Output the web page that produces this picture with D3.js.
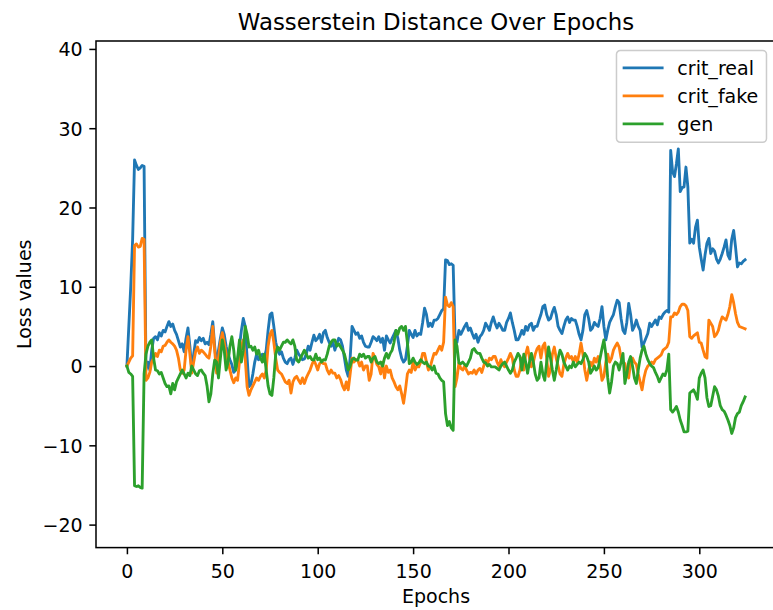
<!DOCTYPE html>
<html>
<head>
<meta charset="utf-8">
<script src="https://cdn.jsdelivr.net/npm/d3@7"></script>
<style>
  body { margin: 0; background: #fff; }
  svg { display: block; }
  text { font-family: "DejaVu Sans", sans-serif; fill: #000; }
</style>
</head>
<body>
<svg id="chart" width="773" height="610"></svg>
<script>
// Loss values per epoch (index = epoch)
const critReal = [
  0, 5, 10, 16, 26, 25.3, 24.8, 25.0, 25.3, 25.2,
  -0.5, 0.5, -0.5, 2.0, 3.5, 3.7, 3.3, 4.2, 3.8, 4.5,
  4.3, 5.0, 5.6, 5.0, 5.3, 4.5, 4.0, 3.2, 2.4, 2.8,
  1.8, 3.5, 4.8, 2.5, -0.5, 1.5, 3.2, 3.0, 3.6, 3.2,
  3.5, 2.8, 3.0, 2.7, 4.0, 5.6, 2.5, -0.1, 2.0, 3.5,
  4.8, 4.0, 2.5, 1.5, 0.8, 0.2, -0.8, -0.5, 0.5, 2.5,
  4.5, 6.0, 5.0, 1.0, -2.6, -2.3, -1.0, 0.5, 1.5, 0.8,
  1.2, 1.5, 1.0, 2.0, 4.5, 6.5, 6.7, 5.0, 3.0, 2.0,
  1.5, 1.8, 1.0, 0.5, 0.3, 0.8, 1.0, 0.2, 1.0, 2.0,
  1.5, 1.2, 0.8, 0.9, 1.5, 2.5, 2.0, 3.0, 3.9, 3.2,
  3.5, 4.0, 3.0, 4.2, 4.5, 3.6, 3.0, 2.5, 3.0, 2.0,
  2.8, 3.5, 3.3, 2.5, 1.0, -0.5, -1.3, 1.0, 5.0, 4.5,
  4.0, 4.2, 3.5, 3.8, 3.0, 2.5, 2.4, 2.4, 3.0, 3.7,
  3.5, 3.2, 3.7, 3.0, 3.5, 2.0, 3.8, 3.3, 2.9, 3.5,
  4.0, 4.5, 3.5, 2.0, 1.0, 0.5, 0.8, 2.5, 4.5, 4.0,
  3.6, 4.5, 3.8, 4.1, 4.0, 5.5, 7.3, 6.5, 5.0, 5.4,
  5.0, 5.8, 5.8, 6.0, 6.5, 7.0, 7.2, 13.4, 13.3, 12.8,
  12.9, 12.7, 3.3, 3.0, 4.5, 4.0, 4.5, 5.0, 5.4, 4.5,
  4.8, 4.1, 3.5, 4.0, 3.0, 3.7, 4.0, 4.5, 5.4, 5.0,
  4.5, 5.5, 6.2, 5.4, 4.8, 5.4, 5.0, 4.5, 4.5, 5.5,
  6.0, 6.7, 5.5, 4.5, 3.3, 3.3, 3.8, 4.5, 4.0, 5.0,
  4.5, 5.2, 5.4, 4.5, 5.0, 5.0, 5.8, 6.5, 7.5, 7.7,
  6.5, 5.8, 6.0, 6.8, 7.4, 6.5, 5.0, 4.5, 4.1, 5.0,
  5.8, 6.2, 5.5, 6.0, 5.8, 5.8, 5.0, 4.0, 3.3, 4.5,
  6.5, 7.0, 6.0, 4.5, 4.8, 5.5, 5.2, 5.0, 6.0, 7.5,
  5.0, 3.3, 4.5, 5.5, 6.0, 6.5, 7.5, 8.3, 8.0, 6.0,
  4.5, 4.1, 5.5, 7.9, 6.5, 4.5, 5.0, 5.8, 5.0, 4.5,
  2.4, 2.9, 3.5, 4.1, 5.4, 5.0, 5.4, 5.8, 5.2, 6.2,
  6.0, 6.5, 6.8, 7.0, 6.8, 27.2, 24.5, 23.9, 25.5, 27.4,
  22.0, 22.5, 22.6, 25.1, 22.6, 15.5, 16.0, 15.5, 17.5, 18.4,
  15.0, 13.5, 12.1, 14.0, 15.5, 16.1, 14.2, 14.8, 14.5, 13.5,
  13.0, 13.5, 14.2, 15.0, 15.9, 14.0, 13.5, 16.0, 17.1, 15.0,
  12.5, 13.0, 12.9, 13.2, 13.4
];

const critFake = [
  0, 0.5, 1.0, 1.3, 15.2, 15.4, 15.0, 15.1, 16.1, 16.0,
  -1.8, -1.5, -0.8, 0.5, 1.0, 1.6, 1.2, 2.0, 1.8, 2.5,
  2.6, 3.0, 3.3, 3.0, 2.8, 2.5, 2.0, 1.0, -0.5, -0.9,
  -0.5, 2.0, 3.7, 1.5, -0.9, 0.5, 1.8, 2.4, 1.6, 2.0,
  1.8, 1.5, 1.2, 1.0, 2.5, 5.0, 2.0, -0.9, 1.0, 3.0,
  4.2, 3.0, 1.5, 0.5, -0.5, -1.5, -2.1, -1.5, -1.8, 0.5,
  2.5, 3.3, 1.0, -2.6, -3.7, -3.0, -2.5, -2.0, -1.5, -1.8,
  -1.3, -1.0, -1.5, -0.5, 2.5, 4.0, 4.5, 3.0, 1.0, -0.5,
  -0.8, -1.0, -1.5, -2.0, -2.2, -1.8, -3.4, -2.0, -1.5, -1.3,
  -1.8, -2.2, -1.5, -2.2, -1.5, -1.0, -0.5, 0.2, 0.75, 0.2,
  -0.5, 0.3, 0.5, 0.3, 0.3, -0.5, -1.0, -0.5, -0.9, -0.9,
  -1.5, -1.2, -1.7, -2.5, -3.0, -2.0, -3.0, -1.0, 1.0, 0.5,
  0.8, 0.75, 0.0, 0.5, -0.5, 0.0, 0.0, -1.8, -1.0, 1.6,
  1.0, 0.2, -0.1, -1.0, 0.5, -1.5, 0.0, -0.8, -0.5, -1.5,
  -2.0, -2.6, -3.0, -2.5, -3.5, -4.7, -3.0, -1.0, -0.5, -0.8,
  0.5, -0.5, 0.0, -0.1, 0.5, 1.6, 1.6, 0.5, -0.5, -0.1,
  0.8, 1.6, 1.5, 2.0, 2.5, 2.0, 3.0, 8.7, 7.7, 7.5,
  8.0, 7.5, -2.6, -1.5, 0.4, -0.3, -0.5, 0.0, -0.5, -1.0,
  -0.8, -0.9, -0.5, -1.0, -0.5, -0.3, -0.8, 0.0, 0.75, 0.3,
  1.0, 0.8, 1.2, 1.2, 0.5, 0.0, 0.8, 0.2, -0.1, 0.5,
  1.0, 1.6, 1.0, -0.5, -1.3, -1.3, -0.5, 1.0, -0.5, 1.5,
  2.4, 1.0, -0.1, 0.5, 1.5, 2.2, 2.5, 1.0, 2.5, 2.9,
  1.0, -1.3, -0.5, 1.5, 2.4, 1.0, 0.0, -1.0, -1.3, 0.2,
  1.0, 1.6, 1.0, 1.2, 0.5, 1.2, 0.5, 1.5, 2.9, 1.5,
  -0.5, -1.8, -0.5, 0.5, 0.0, 1.0, 0.5, 1.2, 0.0, -1.8,
  -1.3, 0.5, 1.5, 0.5, 1.0, 2.0, 2.5, 2.9, 2.4, 1.0,
  0.5, 0.3, -1.0, -1.5, 0.5, 1.0, 0.5, 0.2, -1.0, -2.0,
  -3.0, -1.5, -0.5, 0.0, 0.2, 0.5, 0.3, 0.8, 1.0, 1.2,
  1.4, 2.0, 2.2, 2.4, 3.0, 6.2, 6.2, 6.7, 6.5, 6.8,
  7.5, 7.8, 7.8, 7.6, 7.0, 3.7, 3.5, 3.8, 4.0, 4.2,
  3.0, 2.9, 2.0, 1.2, 1.0, 5.8, 5.4, 5.0, 3.7, 4.0,
  4.5, 5.5, 6.2, 6.0, 5.8, 6.5, 7.5, 9.0, 8.0, 6.6,
  5.5, 5.0, 4.9, 4.8, 4.7
];

const gen = [
  0, -0.8, -1.0, -1.3, -15.1, -15.2, -15.1, -15.3, -15.4, -1.0,
  1.5, 2.5, 3.0, 3.3, 1.0, -0.5, -0.6, -1.0, -0.8, -1.5,
  -2.2, -2.6, -2.5, -3.5, -2.2, -3.0, -2.0, -1.5, -1.0, -0.5,
  -1.0, -1.5, -0.9, -1.2, 0.0, -0.5, -1.0, -1.2, -0.6, -0.5,
  -0.9, -1.2, -2.5, -4.5, -3.5, -1.0, 0.75, 0.5, -1.5, 1.0,
  3.3, 2.0, -0.5, 0.5, 2.5, 3.7, 2.0, -0.5, 1.0, 3.3,
  0.5, 2.0, 5.0, 4.0, 2.4, 2.5, 2.0, 2.4, 1.5, 2.0,
  1.0, 0.5, 1.5, -0.5, -2.5, -3.5, -3.7, -1.5, 1.5, 2.4,
  2.0, 2.5, 3.0, 3.0, 3.3, 3.0, 2.8, 3.3, 2.5, 0.75,
  0.5, 1.0, 1.5, 2.0, 1.5, 1.0, 1.2, 0.8, 0.75, 1.5,
  0.8, 1.0, 0.5, 0.8, 0.75, 1.5, 2.5, 3.0, 3.3, 3.3,
  2.5, 2.8, 2.4, 2.0, 1.5, 0.5, -0.5, 0.0, 0.8, 1.0,
  0.75, 0.75, 1.5, 1.2, 1.5, 1.0, 1.2, 1.2, 0.5, 1.0,
  1.2, 0.5, 0.3, 0.5, 0.0, 1.0, 1.6, 1.0, 1.6, 2.0,
  3.0, 4.5, 4.0, 4.8, 5.0, 4.5, 5.0, 3.0, 0.3, 0.5,
  1.0, 0.5, 0.2, 0.4, 0.8, 0.5, 0.3, 0.5, 0.0, -0.1,
  -0.5, 0.0, -0.9, -1.0, -1.5, -1.8, -2.0, -6.0, -7.5, -7.0,
  -7.8, -8.1, 3.3, 2.5, 0.4, 0.3, 0.5, 0.2, 0.0, 0.5,
  1.0, 2.0, 2.2, 1.8, 1.6, 1.6, 1.0, 0.5, 0.4, 0.0,
  0.2, -0.1, -0.1, -0.1, -0.3, -0.5, 0.0, 0.3, 0.5, 0.0,
  -0.5, -0.9, -0.5, 0.5, 1.0, 1.6, 1.2, -0.5, 1.5, 0.5,
  -0.9, 0.5, 1.6, 0.5, -1.0, -1.8, -1.5, 0.5, -1.0, -1.8,
  0.5, 2.4, 1.0, -0.5, -1.8, -0.5, 1.0, 2.0, 1.5, 0.5,
  0.0, -0.5, 0.0, -0.2, 0.5, -0.1, 0.2, 0.5, 0.3, 0.8,
  1.6, 1.2, 0.5, -0.9, -0.5, 0.0, -0.5, -0.2, 1.0, 2.2,
  3.3, 1.5, -1.5, -3.4, -2.0, 0.0, 0.5, 0.3, -0.5, 0.5,
  1.6, -2.2, -1.0, 0.5, 1.2, 0.0, -1.5, -2.2, -0.5, 1.0,
  2.0, 2.5, 1.5, 0.8, 0.3, 0.0, -0.2, -0.8, -1.3, -2.0,
  -1.5, -1.0, -1.2, -0.5, 1.5, -5.5, -5.8, -5.5, -5.1, -5.8,
  -6.8, -7.5, -8.3, -8.3, -8.2, -3.4, -3.2, -3.0, -3.5, -4.2,
  -1.5, -0.9, -0.5, -1.5, -4.0, -5.1, -5.0, -3.8, -2.6, -3.0,
  -3.8, -5.0, -5.5, -5.7, -6.2, -6.8, -7.5, -8.5, -7.8, -6.5,
  -6.0, -5.8, -5.0, -4.5, -3.9
];

const seriesNames = ["crit_real", "crit_fake", "gen"];
const seriesColors = ["#1f77b4", "#ff7f0e", "#2ca02c"];
const xTicks = [0, 50, 100, 150, 200, 250, 300];
const yTicks = [-20, -10, 0, 10, 20, 30, 40];
const titleText = "Wasserstein Distance Over Epochs";
const xLabel = "Epochs";
const yLabel = "Loss values";

// Figure geometry (points scaled to pixels)
const pt = 1.903;
const plotLeft = 96, plotRight = 776, plotTop = 41, plotBottom = 547.6;
const fontSize = 10 * pt;

const svg = d3.select("#chart");
svg.append("rect").attr("width", 773).attr("height", 610).attr("fill", "#fff");

const n = critReal.length;
const xPad = (n - 1) * 0.05;
const x = d3.scaleLinear().domain([-xPad, n - 1 + xPad]).range([plotLeft, plotRight]);
const y = d3.scaleLinear().domain([-22.9, 41.0]).range([plotBottom, plotTop]);

svg.append("defs").append("clipPath").attr("id", "plotClip")
  .append("rect").attr("x", plotLeft).attr("y", plotTop)
  .attr("width", plotRight - plotLeft).attr("height", plotBottom - plotTop);

// Lines
const allSeries = [critReal, critFake, gen];
const line = d3.line().x((d, i) => x(i)).y(d => y(d));
const plot = svg.append("g").attr("clip-path", "url(#plotClip)");
allSeries.forEach((vals, k) => {
  plot.append("path")
    .attr("d", line(vals))
    .attr("fill", "none")
    .attr("stroke", seriesColors[k])
    .attr("stroke-width", 1.5 * pt)
    .attr("stroke-linejoin", "round")
    .attr("stroke-linecap", "square");
});

// Axes
const fmt = d => String(d).replace("-", "\u2212");
const xAxis = d3.axisBottom(x).tickValues(xTicks).tickFormat(fmt)
  .tickSize(3.5 * pt).tickPadding(3.5 * pt).tickSizeOuter(0);
const yAxis = d3.axisLeft(y).tickValues(yTicks).tickFormat(fmt)
  .tickSize(3.5 * pt).tickPadding(3.5 * pt).tickSizeOuter(0);

const gx = svg.append("g").attr("transform", `translate(0,${plotBottom})`).call(xAxis);
const gy = svg.append("g").attr("transform", `translate(${plotLeft},0)`).call(yAxis);
[gx, gy].forEach(g => {
  g.select(".domain").remove();
  g.selectAll(".tick line").attr("stroke", "#000").attr("stroke-width", 0.8 * pt);
  g.selectAll(".tick text")
    .attr("font-family", "DejaVu Sans, sans-serif")
    .attr("font-size", fontSize)
    .attr("fill", "#000");
});
gx.selectAll(".tick text").attr("dy", "0.92em");
gy.selectAll(".tick text").attr("dy", "0.36em");

// Frame
svg.append("rect")
  .attr("x", plotLeft).attr("y", plotTop)
  .attr("width", plotRight - plotLeft).attr("height", plotBottom - plotTop)
  .attr("fill", "none").attr("stroke", "#000").attr("stroke-width", 0.8 * pt);

// Title and axis labels
svg.append("text").attr("x", (plotLeft + plotRight) / 2).attr("y", 29.6)
  .attr("text-anchor", "middle").attr("font-size", 12 * pt).text(titleText);
svg.append("text").attr("x", (plotLeft + plotRight) / 2).attr("y", 603)
  .attr("text-anchor", "middle").attr("font-size", fontSize).text(xLabel);
svg.append("text")
  .attr("transform", `translate(31,${(plotTop + plotBottom) / 2}) rotate(-90)`)
  .attr("text-anchor", "middle").attr("font-size", fontSize).text(yLabel);

// Legend
const lgW = 150, lgRight = plotRight - 0.5 * fontSize, lgTop = plotTop + 0.5 * fontSize;
const rowH = 28;
const lg = svg.append("g").attr("transform", `translate(${lgRight - lgW},${lgTop})`);
lg.append("rect")
  .attr("x", 0).attr("y", 0).attr("width", lgW).attr("height", 7.6 * 2 + rowH * 3 - 9.5 + 2)
  .attr("rx", 3.8).attr("ry", 3.8)
  .attr("fill", "#fff").attr("fill-opacity", 0.8)
  .attr("stroke", "#cccccc").attr("stroke-width", 0.8 * pt);
seriesNames.forEach((name, k) => {
  const cy = 17.4 + k * rowH;
  lg.append("line")
    .attr("x1", 7.6).attr("x2", 7.6 + 2 * fontSize)
    .attr("y1", cy).attr("y2", cy)
    .attr("stroke", seriesColors[k]).attr("stroke-width", 1.5 * pt)
    .attr("stroke-linecap", "square");
  lg.append("text")
    .attr("x", 7.6 + 2.8 * fontSize).attr("y", cy).attr("dy", "0.36em")
    .attr("font-size", fontSize).text(name);
});
</script>
</body>
</html>
